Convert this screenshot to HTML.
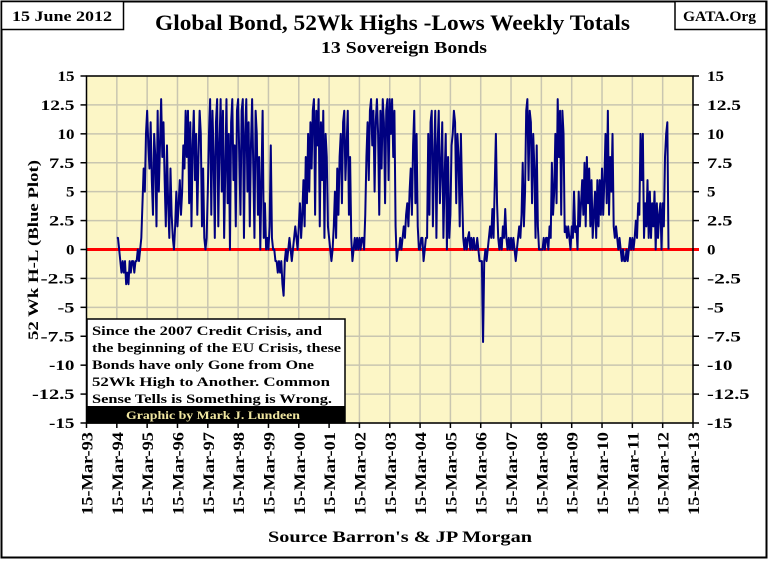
<!DOCTYPE html>
<html><head><meta charset="utf-8"><style>
body{margin:0;background:#fff;width:768px;height:559px;overflow:hidden;font-family:"Liberation Serif",serif;}
svg text{font-family:"Liberation Serif",serif;font-weight:bold;}
</style></head><body>
<svg id="chart" width="768" height="559" xmlns="http://www.w3.org/2000/svg">
<rect x="1.5" y="1.5" width="765" height="556" fill="#fff" stroke="#000" stroke-width="2"/>
<rect x="1.5" y="1.5" width="122" height="28" fill="#fff" stroke="#000" stroke-width="1.5"/>
<text x="12" y="21" font-size="15" textLength="100" lengthAdjust="spacingAndGlyphs">15 June 2012</text>
<rect x="675" y="1.5" width="91" height="28" fill="#fff" stroke="#000" stroke-width="1.5"/>
<text x="683" y="21" font-size="15" textLength="73" lengthAdjust="spacingAndGlyphs">GATA.Org</text>
<text x="155" y="30" font-size="22" textLength="475" lengthAdjust="spacingAndGlyphs">Global Bond, 52Wk Highs -Lows Weekly Totals</text>
<text x="321" y="53" font-size="17" textLength="166" lengthAdjust="spacingAndGlyphs">13 Sovereign Bonds</text>
<rect x="86.5" y="76" width="606.5" height="347" fill="#fcf6c6"/>
<g id="grid"></g>
<g id="axes"></g>
<line id="zero" stroke="#ff0000" stroke-width="3"/>
<path id="series" fill="none" stroke="#000080" stroke-width="2" stroke-linejoin="round"/>
<rect x="86.5" y="76" width="606.5" height="347" fill="none" stroke="#000" stroke-width="1.5"/>
<g>
<rect x="87" y="319" width="258" height="104" fill="#fff" stroke="#000" stroke-width="1.5"/>
<text x="92" y="335" font-size="13" textLength="230" lengthAdjust="spacingAndGlyphs">Since the 2007 Credit Crisis, and</text>
<text x="92" y="352" font-size="13" textLength="249" lengthAdjust="spacingAndGlyphs">the beginning of the EU Crisis, these</text>
<text x="92" y="369" font-size="13" textLength="222" lengthAdjust="spacingAndGlyphs">Bonds have only Gone from One</text>
<text x="92" y="386" font-size="13" textLength="238" lengthAdjust="spacingAndGlyphs">52Wk High to Another.  Common</text>
<text x="92" y="403" font-size="13" textLength="240" lengthAdjust="spacingAndGlyphs">Sense Tells is Something is Wrong.</text>
<rect x="87" y="406" width="258" height="17" fill="#000"/>
<text x="126" y="419" font-size="12" fill="#f0e6a0" textLength="174" lengthAdjust="spacingAndGlyphs">Graphic by Mark J. Lundeen</text>
</g>
<text transform="translate(38,250) rotate(-90)" font-size="15" text-anchor="middle" textLength="180" lengthAdjust="spacingAndGlyphs">52 Wk H-L  (Blue Plot)</text>
<text x="268" y="542" font-size="16" textLength="264" lengthAdjust="spacingAndGlyphs">Source Barron's &amp; JP Morgan</text>
</svg>
<script>
const yTicks=[15,12.5,10,7.5,5,2.5,0,-2.5,-5,-7.5,-10,-12.5,-15];
const xYears=[93,94,95,96,97,98,99,0,1,2,3,4,5,6,7,8,9,10,11,12,13];
const startYear=1994;
const y1994=[1,1,0,-1,-2,-1,-2,-1,-3,-2,-3,-1,-2,-1,-1,-2,-1,-1,0,-1,0,1,4,7,5,10];
const y1995=[12,9,7,11,6,3,10,8,2,12,5,9,13,8,11,6,2,9,4,1,7,3,1,0,2,5];
const y1996=[2,4,6,3,5,9,7,12,8,12,4,11,2,9,12,6,10,3,8,12,10,2,7,1,0,1];
const y1997=[5,10,13,3,12,8,1,11,13,2,9,13,5,12,1,7,13,4,10,0,11,13,6,9,2,12];
const y1998=[13,8,3,12,13,1,10,13,5,11,2,9,13,7,1,12,10,3,8,0,6,12,1,4,0,1];
const y1999=[0,2,9,1,0,0,-1,-1,-2,-1,-2,-1,-3,-4,-1,0,-1,0,1,0,-1,0,1,2,1,0];
const y2000=[2,4,1,3,6,2,8,4,10,5,11,7,12,13,3,12,9,13,2,11,6,12,1,10,8,2];
const y2001=[1,0,-1,0,2,5,1,7,3,8,10,4,11,12,6,9,12,3,8,1,-1,0,1,0,1,0];
const y2002=[1,0,1,1,0,3,8,11,6,12,13,9,12,5,11,13,10,3,12,7,13,11,4,12,13,6];
const y2003=[13,10,13,8,12,2,-1,0,0,1,0,1,2,1,3,4,2,5,7,3,9,12,4,10,2,0];
const y2004=[0,1,1,-1,0,1,1,10,3,11,12,2,8,12,1,9,12,4,7,11,1,6,10,0,8,1];
const y2005=[3,9,10,12,11,4,10,8,2,10,5,1,0,1,0,1,1.5,0,1,0,1,0,0,1,0,-1];
const y2006=[-1,-1,-8,-1,0,-1,0,1,2,1,3.5,1,5.5,10,4,1,0,1,0,2,1,3.5,1,0,1,0];
const y2007=[1,0,1,0,-1,0,1,2,1,3,7.5,2,5,12,13,6,12,11,4,10,7,1,9,2,0,0];
const y2008=[0,0,1,0,1,1,0,2,1,7.5,3,5,10,4,13,8,12,3,12,10,1.5,2,1,2,1,0];
const y2009=[2,1,5,1.5,2,0,5,2,4,6,3,7.5,2,8,4,7,2,6,1,3,5,1,6,2,6,3];
const y2010=[7,3,6,10,4,12,3,8,5,10,2,1,2,1,0,1,0,-1,0,-1,-1,0,-1,0,1,0];
const y2011=[1,0,1,2.5,1,4,3,10,6,10,1,4,2,6,1,5,1,4,2,5,0,4,1,3,4,0];
const y2012=[4,2,8,10,11,0];
const seriesYears=[y1994,y1995,y1996,y1997,y1998,y1999,y2000,y2001,y2002,y2003,y2004,y2005,y2006,y2007,y2008,y2009,y2010,y2011,y2012];

const X0=86.5,X1=693,Y0=423,Y1=76;
const xScale=yr=>X0+(yr-1993)/20*(X1-X0);
const yScale=v=>Y0-(v+15)/30*(Y0-Y1);
const NS="http://www.w3.org/2000/svg";
const grid=document.getElementById('grid'),axes=document.getElementById('axes');
function mk(tag,attrs,parent){const e=document.createElementNS(NS,tag);for(const k in attrs)e.setAttribute(k,attrs[k]);parent.appendChild(e);return e;}
yTicks.forEach(v=>{
  const y=yScale(v);
  const g=mk('line',{x1:X0,x2:X1,y1:y,y2:y,stroke:'#c9c6b0','stroke-width':1.5},grid);
  
  
  mk('line',{x1:X0-6,x2:X0,y1:y,y2:y,stroke:'#000','stroke-width':1.5},axes);
  mk('line',{x1:X1,x2:X1+6,y1:y,y2:y,stroke:'#000','stroke-width':1.5},axes);
  const s=String(v);
  const w=s.length*8.5;
  const tl=mk('text',{x:X0-12,y:y+5,'font-size':15,'text-anchor':'end',textLength:w,lengthAdjust:'spacingAndGlyphs'},axes);
  tl.textContent=s;
  
  
  const tr=mk('text',{x:X1+14,y:y+5,'font-size':15,textLength:w,lengthAdjust:'spacingAndGlyphs'},axes);
  tr.textContent=s;
  
  
});
xYears.forEach((yy,i)=>{
  const x=xScale(1993+i);
  if(i>0&&i<20){const g=mk('line',{x1:x,x2:x,y1:Y1,y2:Y0,stroke:'#c9c6b0','stroke-width':1.5},grid);
  
  }
  mk('line',{x1:x,x2:x,y1:Y0,y2:Y0+5,stroke:'#000','stroke-width':1.5},axes);
  const t=mk('text',{transform:`translate(${x+6},${Y0+9}) rotate(-90)`,'font-size':16,'text-anchor':'end',textLength:83,lengthAdjust:'spacingAndGlyphs'},axes);
  t.textContent='15-Mar-'+String(yy).padStart(2,'0');
  
  
});
const z=document.getElementById('zero');
z.setAttribute('x1',X0);z.setAttribute('x2',X1+6);z.setAttribute('y1',yScale(0));z.setAttribute('y2',yScale(0));
let d='';
seriesYears.forEach((arr,yi)=>{
  arr.forEach((v,i)=>{
    const x=xScale(startYear+yi+i/26),y=yScale(v);
    d+=(d?'L':'M')+x.toFixed(2)+','+y.toFixed(2);
  });
});
document.getElementById('series').setAttribute('d',d);
</script>
</body></html>
